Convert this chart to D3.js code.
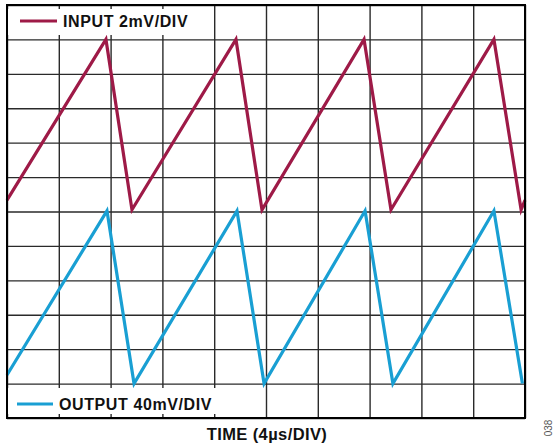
<!DOCTYPE html>
<html lang="en">
<head>
  <meta charset="utf-8">
  <title>Input / output sawtooth</title>
  <script src="https://cdn.jsdelivr.net/npm/d3@7"></script>
  <style>
    body { margin: 0; background: #fff; }
    svg { display: block; font-family: "Liberation Sans", Arial, sans-serif; }
  </style>
</head>
<body>
<script>
// time in µs (4 µs per division), amplitude in divisions from the bottom
var inputTime = [0, 7.64, 9.65, 17.68, 19.69, 27.57, 29.65, 37.6, 39.7, 40];
var inputDiv  = [6.33, 11, 6.05, 11, 6.05, 11, 6.05, 11, 6.05, 6.33];
var outputTime = [0, 7.72, 9.81, 17.76, 19.85, 27.65, 29.8, 37.6, 39.8];
var outputDiv  = [1.25, 6.02, 1.0, 6.02, 1.0, 6.02, 1.0, 6.02, 1.0];
var timeTicks = d3.range(0, 41, 4);
var divTicks = d3.range(0, 13, 1);

var width = 556, height = 446;
var plotL = 7, plotR = 525, plotT = 5, plotB = 418;

var svg = d3.select("body").append("svg")
  .attr("width", width)
  .attr("height", height);

var x = d3.scaleLinear().domain([0, 40]).range([plotL, plotR]);
var y = d3.scaleLinear().domain([0, 12]).range([plotB, plotT]);

// grid
svg.append("g")
  .attr("transform", "translate(0," + plotB + ")")
  .call(d3.axisBottom(x).tickValues(timeTicks).tickSize(-(plotB - plotT)).tickFormat(""))
  .call(g => g.select(".domain").remove())
  .call(g => g.selectAll("line").attr("stroke", "#2a2a2a").attr("stroke-width", 1.4));

svg.append("g")
  .attr("transform", "translate(" + plotL + ",0)")
  .call(d3.axisLeft(y).tickValues(divTicks).tickSize(-(plotR - plotL)).tickFormat(""))
  .call(g => g.select(".domain").remove())
  .call(g => g.selectAll("line").attr("stroke", "#2a2a2a").attr("stroke-width", 1.4));

// legend boxes hide the grid behind the labels
svg.append("rect").attr("x", plotL + 1).attr("y", plotT + 4)
  .attr("width", 184).attr("height", 26).attr("fill", "#fff");
svg.append("rect").attr("x", plotL + 1).attr("y", 388)
  .attr("width", 212).attr("height", 26).attr("fill", "#fff");

// traces
var line = d3.line().x(d => x(d[0])).y(d => y(d[1]));

svg.append("path")
  .datum(inputTime.map((t, i) => [t, inputDiv[i]]))
  .attr("d", line)
  .attr("fill", "none")
  .attr("stroke", "#9e1a47")
  .attr("stroke-width", 3.2)
  .attr("stroke-linejoin", "miter")
  .attr("stroke-miterlimit", 6);

svg.append("path")
  .datum(outputTime.map((t, i) => [t, outputDiv[i]]))
  .attr("d", line)
  .attr("fill", "none")
  .attr("stroke", "#199fd3")
  .attr("stroke-width", 3.2)
  .attr("stroke-linejoin", "miter")
  .attr("stroke-miterlimit", 6);

// frame
svg.append("rect")
  .attr("x", plotL).attr("y", plotT)
  .attr("width", plotR - plotL).attr("height", plotB - plotT)
  .attr("fill", "none")
  .attr("stroke", "#000")
  .attr("stroke-width", 2);

// legends
svg.append("line")
  .attr("x1", 20).attr("x2", 57).attr("y1", 21).attr("y2", 21)
  .attr("stroke", "#9e1a47").attr("stroke-width", 3.2);
svg.append("text")
  .attr("x", 63).attr("y", 26.5)
  .attr("font-size", 16).attr("font-weight", "bold").attr("fill", "#111")
  .attr("letter-spacing", 0.6)
  .text("INPUT 2mV/DIV");

svg.append("line")
  .attr("x1", 17).attr("x2", 53).attr("y1", 404).attr("y2", 404)
  .attr("stroke", "#199fd3").attr("stroke-width", 3.2);
svg.append("text")
  .attr("x", 59).attr("y", 409.5)
  .attr("font-size", 16).attr("font-weight", "bold").attr("fill", "#111")
  .attr("letter-spacing", 0.6)
  .text("OUTPUT 40mV/DIV");

// axis title
svg.append("text")
  .attr("x", (plotL + plotR) / 2 + 1).attr("y", 440)
  .attr("text-anchor", "middle")
  .attr("font-size", 16.5).attr("font-weight", "bold").attr("fill", "#111")
  .attr("letter-spacing", 0.4)
  .text("TIME (4µs/DIV)");

// figure number
svg.append("text")
  .attr("transform", "translate(552,428) rotate(-90)")
  .attr("text-anchor", "middle")
  .attr("font-size", 10).attr("fill", "#555")
  .text("038");
</script>
</body>
</html>
